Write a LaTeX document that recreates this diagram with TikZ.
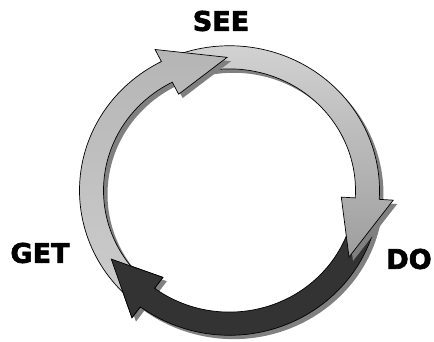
\documentclass[tikz,border=0pt]{standalone}
\usepackage{fontspec}
\newfontfamily\heavy{DejaVu Sans}[BoldFeatures={FakeBold=2.5}]
\begin{document}
\begin{tikzpicture}[x=1pt,y=1pt,
  lbl/.style={inner sep=0pt, font=\heavy\bfseries\fontsize{27}{27}\selectfont},
  outline/.style={draw=black, line width=0.7pt, line join=miter},
  shadowfill/.style={fill=black!50, draw=none},
  arrowA/.style={outline, top color=black!29, bottom color=black!20},
  arrowB/.style={outline, top color=black!17, bottom color=black!38},
  arrowC/.style={outline, fill=black!80}]
\useasboundingbox (0,0) rectangle (434,341);
\def\Ro{150}\def\Ri{126}\def\Rm{138}\def\Rh{164}\def\Rl{112}
\newcommand\ringarrow[3]{(#1:\Ro) arc[start angle=#1, end angle=#2, radius=\Ro] -- (#2:\Rh) -- (#3:\Rm) -- (#2:\Rl) -- (#2:\Ri) arc[start angle=#2, end angle=#1, radius=\Ri] -- cycle}
\begin{scope}[shift={(229.5,150.5)}, yscale=0.965]
  % dark arrow (DO -> GET)
  \fill[shadowfill, shift={(4,-4)}] \ringarrow{-10}{-126.5}{-149};
  \path[arrowC] \ringarrow{-10}{-126.5}{-149};
  % light arrow (SEE -> DO)
  \fill[shadowfill, shift={(4,-4)}] \ringarrow{110}{-3.5}{-30};
  \path[arrowB] \ringarrow{110}{-3.5}{-30};
  % light arrow (GET -> SEE)
  \fill[shadowfill, shift={(4,-4)}] \ringarrow{228}{117}{91};
  \path[arrowA] \ringarrow{228}{117}{91};
  % dark arrow head again, on top of the tail of the first arrow
  \begin{scope}
    \clip (-126:165.5) -- (-149.6:\Rm) -- (-126:110.5) -- cycle;
    \path[arrowC] \ringarrow{-10}{-126.5}{-149};
  \end{scope}
\end{scope}
\node[lbl] (see) at (221,320) {SEE};
\node[lbl] (get) at (40,88) {GET};
\node[lbl] (do) at (409,82) {DO};
\end{tikzpicture}
\end{document}
